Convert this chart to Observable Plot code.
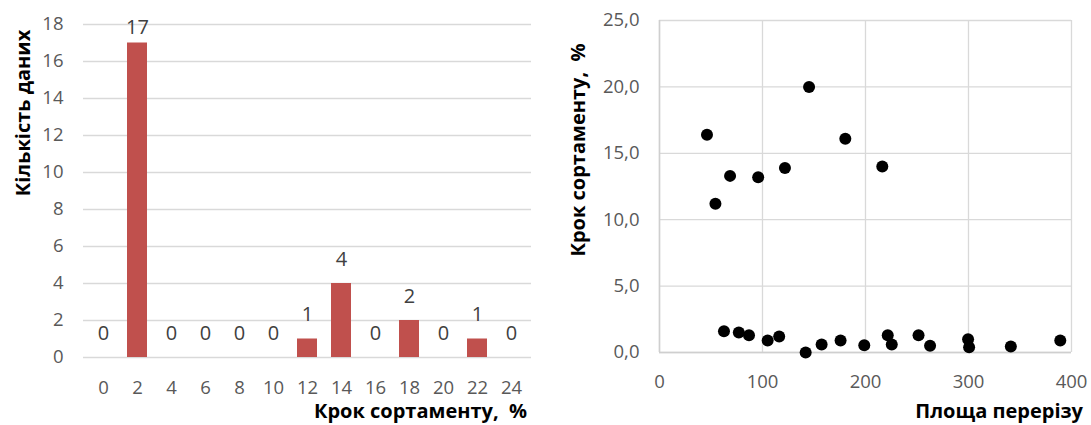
<!DOCTYPE html>
<html><head><meta charset="utf-8">
<script src="https://cdn.jsdelivr.net/npm/d3@7"></script>
<script src="https://cdn.jsdelivr.net/npm/@observablehq/plot@0.6"></script>
<style>
body{margin:0;background:#fff;font-family:"Open Sans",sans-serif;}
#wrap{position:relative;width:1091px;height:425px;overflow:hidden;background:#fff;}
#wrap svg{position:absolute;top:0;overflow:visible;}
.t{position:absolute;font-family:"Open Sans",sans-serif;font-weight:bold;font-size:20px;color:#000;white-space:pre;line-height:1;}
</style></head><body><div id="wrap"></div>
<script>
// Histogram: step of the assortment (%) vs number of data
const stepCategories = [0, 2, 4, 6, 8, 10, 12, 14, 16, 18, 20, 22, 24];
const stepCounts     = [0, 17, 0, 0, 0, 0, 1, 4, 0, 2, 0, 1, 0];
const histYTicks     = [0, 2, 4, 6, 8, 10, 12, 14, 16, 18];

// Scatter: cross-section area vs step of the assortment (%)
const areaValues = [46.1, 54.3, 62.6, 68.5, 77.0, 86.9, 95.8, 105.0, 116.2, 121.8, 141.9, 145.2, 157.4,
                    175.8, 180.4, 198.8, 216.3, 221.6, 225.5, 251.5, 262.7, 299.6, 300.6, 341.1, 389.1];
const stepValues = [16.4, 11.2, 1.6, 13.3, 1.5, 1.3, 13.2, 0.9, 1.2, 13.9, 0.0, 20.0, 0.6,
                    0.9, 16.1, 0.55, 14.0, 1.3, 0.6, 1.3, 0.5, 1.0, 0.4, 0.45, 0.9];
const scatterXTicks = [0, 100, 200, 300, 400];
const scatterYTicks = [0, 5, 10, 15, 20, 25];

const histData = stepCategories.map((c, i) => ({c, v: stepCounts[i]}));
const scatterData = areaValues.map((a, i) => ({a, s: stepValues[i]}));

const wrap = document.getElementById("wrap");
const grid = "#d9d9d9";
const tickColor = "#595959";

const left = Plot.plot({
  width: 545, height: 425,
  marginLeft: 83, marginRight: 14, marginTop: 24, marginBottom: 68,
  style: {fontFamily: "Open Sans", fontSize: "18px", background: "transparent"},
  x: {type: "band", domain: stepCategories, paddingInner: 0.42, paddingOuter: 0.21},
  y: {domain: [0, 18]},
  marks: [
    Plot.gridY(histYTicks, {stroke: grid, strokeOpacity: 1, strokeWidth: 1.3}),
    Plot.barY(histData, {x: "c", y: "v", fill: "#c0504d"}),
    Plot.text(histData, {x: "c", y: d => Math.min(d.v, 16.55), dy: -24, text: d => String(d.v),
      fontSize: 20, fill: "#404040"}),
    Plot.axisY(histYTicks, {tickSize: 0, tickPadding: 20, fontSize: 18.5, fill: tickColor, label: null}),
    Plot.axisX({tickSize: 0, tickPadding: 23, fontSize: 18.5, fill: tickColor, label: null})
  ]
});
left.style.left = "0px";
wrap.appendChild(left);

const fmt = v => d3.format(".1f")(v).replace(".", ",");
const right = Plot.plot({
  width: 546, height: 425,
  marginLeft: 114, marginRight: 20, marginTop: 20, marginBottom: 73,
  style: {fontFamily: "Open Sans", fontSize: "18px", background: "transparent"},
  x: {domain: [0, 400]},
  y: {domain: [0, 25]},
  marks: [
    Plot.gridX(scatterXTicks, {stroke: grid, strokeOpacity: 1, strokeWidth: 1.3}),
    Plot.gridY(scatterYTicks, {stroke: grid, strokeOpacity: 1, strokeWidth: 1.3}),
    Plot.ruleX([0], {stroke: "#cfcfcf", strokeWidth: 1.5}),
    Plot.ruleY([0], {stroke: "#cfcfcf", strokeWidth: 1.5}),
    Plot.dot(scatterData, {x: "a", y: "s", r: 6, fill: "#000", stroke: "none"}),
    Plot.axisY(scatterYTicks, {tickSize: 0, tickPadding: 20, fontSize: 18.5, fill: tickColor, tickFormat: fmt, label: null}),
    Plot.axisX(scatterXTicks, {tickSize: 0, tickPadding: 22, fontSize: 18.5, fill: tickColor, tickFormat: d => String(d), label: null})
  ]
});
right.style.left = "545px";
wrap.appendChild(right);

function title(text, x, y, opts) {
  const d = document.createElement("div");
  d.className = "t";
  d.textContent = text;
  wrap.appendChild(d);
  if (opts.rotate) {
    d.style.left = x + "px"; d.style.top = y + "px";
    d.style.transform = "translate(-50%,-50%) rotate(-90deg)";
  } else {
    d.style.right = (1091 - x) + "px"; d.style.top = y + "px";
    d.style.transform = "translateY(-50%)";
  }
}
title("Кількість даних", 23, 113, {rotate: true});
title("Крок сортаменту,  %", 527, 411, {});
title("Крок сортаменту,  %", 578, 150, {rotate: true});
title("Площа перерізу", 1083, 411, {});
</script>
</body></html>
